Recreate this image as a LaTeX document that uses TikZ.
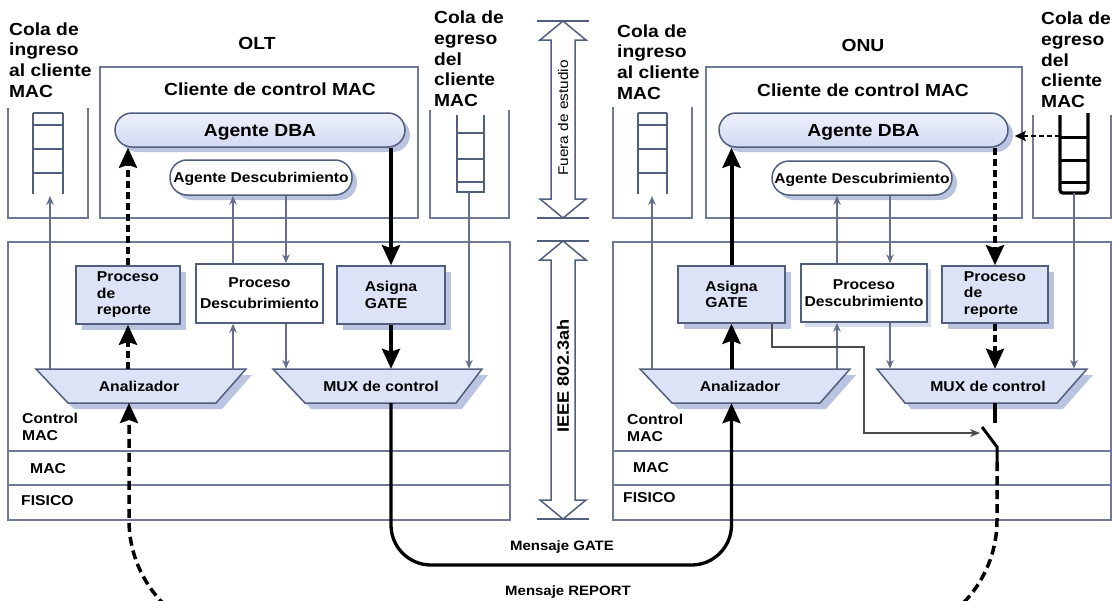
\documentclass[tikz,border=0pt]{standalone}
\usepackage{fontspec}
\setmainfont{Liberation Sans}[FakeStretch=1.1]
\usetikzlibrary{arrows.meta,shadows}

\definecolor{framec}{RGB}{112,122,152}
\definecolor{edgec}{RGB}{82,94,126}
\definecolor{boxc}{RGB}{221,227,246}
\definecolor{shadec}{RGB}{186,196,224}
\definecolor{wirec}{RGB}{100,111,142}
\definecolor{pilltop}{RGB}{238,241,252}
\definecolor{pillbot}{RGB}{210,218,242}

\newcommand\fntBig{\fontsize{17.5}{20.7}\selectfont\bfseries}
\newcommand\fntBox{\fontsize{14.3}{16.5}\selectfont\bfseries}
\newcommand\fntDesc{\fontsize{14.2}{16}\selectfont\bfseries}
\newcommand\fntMsg{\fontsize{13.6}{16}\selectfont\bfseries}

% hollow double-headed arrow: centre x, top tip y, bottom tip y
\newcommand\dblarrow[3]{%
  \draw[edgec, line width=1.5pt, fill=white, line join=miter]
    (#1,#2) -- (#1+23,#2+19) -- (#1+12,#2+19) -- (#1+12,#3-19) -- (#1+23,#3-19)
    -- (#1,#3) -- (#1-23,#3-19) -- (#1-12,#3-19) -- (#1-12,#2+19) -- (#1-23,#2+19) -- cycle;
  \draw[edgec, line width=1.5pt] (#1-26,#2) -- (#1+26,#2) (#1-26,#3) -- (#1+26,#3);}

% trapezoid outline with its shadow: top-left x, top-right x, bottom-left x, bottom-right x
\newcommand\trapbody[4]{%
  \fill[shadec] (#1+6,375) -- (#2+6,375) -- (#4+6,409) -- (#3+6,409) -- cycle;
  \draw[edgec, line width=1.5pt, fill=boxc] (#1,369) -- (#2,369) -- (#4,403) -- (#3,403) -- cycle;}

\begin{document}
\begin{tikzpicture}[x=1pt,y=-1pt,
  frameline/.style={draw=framec,line width=1.3pt},
  txt/.style={inner sep=0pt,font=\fntBig},
  pill/.style={rounded corners=17pt,draw=edgec,line width=1.5pt,top color=pilltop,bottom color=pillbot,
    drop shadow={shadow xshift=5pt,shadow yshift=-5pt,fill=shadec,opacity=1},
    inner sep=0pt,text height=12.6pt,text depth=0pt,font=\fntBig},
  descpill/.style={rounded corners=17pt,draw=edgec,line width=1.5pt,fill=white,
    drop shadow={shadow xshift=5pt,shadow yshift=-5pt,fill=shadec,opacity=1},
    inner sep=0pt,text height=10.2pt,text depth=0pt,font=\fntDesc},
  procbox/.style={draw=edgec,line width=1.6pt,fill=boxc,
    drop shadow={shadow xshift=6pt,shadow yshift=-6pt,fill=shadec,opacity=1},
    inner sep=0pt,font=\fntBox},
  plainbox/.style={draw=edgec,line width=1.6pt,fill=white,inner sep=0pt,font=\fntBox},
  trapnode/.style={inner sep=0pt,minimum width=150pt,minimum height=34pt,
    text height=10.3pt,text depth=0pt,font=\fntBox},
  wire/.style={draw=wirec,line width=1.4pt,-{Stealth[length=9pt,width=7.5pt]}},
  bigtip/.style={-{Stealth[length=20pt,width=18pt,inset=3pt]}},
  sthick/.style={line width=4pt,bigtip},
  dthick/.style={line width=4pt,dash pattern=on 7pt off 4pt,bigtip},
  repline/.style={line width=3.5pt,dash pattern=on 9pt off 5pt,rounded corners=119pt,bigtip},
  gateline/.style={line width=3.3pt,rounded corners=40pt,bigtip},
  ladder/.style={draw=edgec,line width=2.2pt},
]
\useasboundingbox (0,0) rectangle (1113,600);

% ---------------- frames ----------------
\draw[frameline] (8,108) -- (8,218) -- (88,218) -- (88,108);
\draw[frameline] (100,67) rectangle (418,218);
\draw[frameline] (430,110) -- (430,218) -- (509,218) -- (509,110);
\draw[frameline] (8,242) rectangle (510,520);
\draw[frameline] (8,451) -- (510,451) (8,485) -- (510,485);

\draw[frameline] (613,107) -- (613,218) -- (692,218) -- (692,107);
\draw[frameline] (706,67) rectangle (1022,218);
\draw[frameline] (1033,115) -- (1033,218) -- (1111,218) -- (1111,115);
\draw[frameline] (613,242) rectangle (1111,520);
\draw[frameline] (613,451) -- (1111,451) (613,485) -- (1111,485);

% ---------------- scope arrows in the middle ----------------
\dblarrow{563}{21}{218}
\dblarrow{563}{241}{519}
\node[rotate=90,inner sep=0pt,font=\fontsize{14}{16}\selectfont] (fuera) at (563,118) {Fuera de estudio};
\node[rotate=90,inner sep=0pt,font=\fontsize{16.5}{18}\selectfont\bfseries] (ieee) at (563,376) {IEEE 802.3ah};

% ---------------- queues ----------------
\draw[ladder] (33,113) -- (33,194) (63,113) -- (63,194)
  (33,113) -- (63,113) (33,125) -- (63,125) (33,149) -- (63,149) (33,173) -- (63,173);
\draw[ladder] (638,113) -- (638,194) (667,113) -- (667,194)
  (638,113) -- (667,113) (638,125) -- (667,125) (638,149) -- (667,149) (638,173) -- (667,173);
\draw[ladder] (457,115) -- (457,192) -- (484,192) -- (484,115)
  (457,133) -- (484,133) (457,159) -- (484,159) (457,182) -- (484,182);
\draw[black,line width=3.2pt,rounded corners=3pt] (1060,115) -- (1060,193) -- (1088,193) -- (1088,113);
\draw[black,line width=3pt] (1060,137) -- (1088,137) (1060,160) -- (1088,160) (1060,182) -- (1088,182);

\coordinate (ladInL) at (50,196);
\coordinate (ladOutL) at (469,192);
\coordinate (ladInR) at (652,196);
\coordinate (ladOutR) at (1074,193);
\coordinate (ladRung) at (1060,136);

% ---------------- labels ----------------
\node[txt,anchor=west,align=left] (qinLtxt) at (9,60) {Cola de\\ingreso\\al cliente\\MAC};
\node[txt,anchor=west,align=left] (qoutLtxt) at (434,59) {Cola de\\egreso\\del\\cliente\\MAC};
\node[txt,anchor=west,align=left] (qinRtxt) at (617,62) {Cola de\\ingreso\\al cliente\\MAC};
\node[txt,anchor=west,align=left] (qoutRtxt) at (1041,60) {Cola de\\egreso\\del\\cliente\\MAC};
\node[txt] (olt) at (257,43) {OLT};
\node[txt] (onu) at (863,45) {ONU};
\node[txt] (cliL) at (270,89) {Cliente de control MAC};
\node[txt] (cliR) at (863,90) {Cliente de control MAC};

\node[txt,font=\fntBox,anchor=west,align=left] (ctlL) at (22,427) {Control\\MAC};
\node[txt,font=\fntBox,anchor=west] (macL) at (30,469) {MAC};
\node[txt,font=\fntBox,anchor=west] (phyL) at (21,501) {FISICO};
\node[txt,font=\fntBox,anchor=west,align=left] (ctlR) at (627,428) {Control\\MAC};
\node[txt,font=\fntBox,anchor=west] (macR) at (633,468) {MAC};
\node[txt,font=\fntBox,anchor=west] (phyR) at (623,498) {FISICO};

% ---------------- agents ----------------
\node[pill,minimum width=290pt,minimum height=34pt] (dbaL) at (260,130) {Agente DBA};
\node[descpill,minimum width=182pt,minimum height=35pt] (descL) at (261,177.5) {Agente Descubrimiento};
\node[pill,minimum width=289pt,minimum height=34pt] (dbaR) at (863.5,130) {Agente DBA};
\node[descpill,minimum width=180pt,minimum height=34pt] (descR) at (862,178) {Agente Descubrimiento};

% ---------------- processes ----------------
\node[procbox,minimum width=104pt,minimum height=58pt,align=left] (prL) at (128,295) {Proceso\\de\\reporte};
\node[plainbox,minimum width=127pt,minimum height=59pt,align=center,
  font=\fontsize{14.3}{21}\selectfont\bfseries] (pdL) at (259.5,293.5) {Proceso\\Descubrimiento};
\node[procbox,minimum width=108pt,minimum height=58pt,align=left] (agL) at (391,295) {Asigna\\GATE};

\node[procbox,minimum width=107pt,minimum height=57pt,align=left] (agR) at (731.5,294.5) {Asigna\\GATE};
\node[plainbox,minimum width=126pt,minimum height=58pt,align=center,
  font=\fontsize{14.3}{17}\selectfont\bfseries,
  drop shadow={shadow xshift=4pt,shadow yshift=-5pt,fill=shadec!60,opacity=1}] (pdR) at (864,293) {Proceso\\Descubrimiento};
\node[procbox,minimum width=106pt,minimum height=57pt,align=left] (prR) at (995,294.5) {Proceso\\de\\reporte};

% ---------------- parser and multiplexer ----------------
\trapbody{36}{246}{68}{216}
\trapbody{273}{482}{305}{456}
\trapbody{640}{850}{672}{820}
\trapbody{877}{1087}{905}{1057}
\node[trapnode] (anaL) at (139,386) {Analizador};
\node[trapnode] (muxL) at (381,386) {MUX de control};
\node[trapnode] (anaR) at (740,386) {Analizador};
\node[trapnode] (muxR) at (988,386) {MUX de control};

% ---------------- OLT connections ----------------
\coordinate (upL) at (233,0);
\coordinate (dnL) at (286,0);
\draw[wire] (ladInL |- anaL.north) -- (ladInL);
\draw[dthick] (prL.north) -- (prL.north |- dbaL.south);
\draw[dthick] (prL.south |- anaL.north) -- (prL.south);
\draw[wire] (upL |- anaL.north) -- (upL |- pdL.south);
\draw[wire] (upL |- pdL.north) -- (upL |- descL.south);
\draw[wire] (dnL |- descL.south) -- (dnL |- pdL.north);
\draw[wire] (dnL |- pdL.south) -- (dnL |- muxL.north);
\draw[sthick] (agL.north |- dbaL.south) -- (agL.north);
\draw[sthick] (agL.south) -- (agL.south |- muxL.north);
\draw[wire] (ladOutL) -- (ladOutL |- muxL.north);

% ---------------- ONU connections ----------------
\coordinate (upR) at (837,0);
\coordinate (dnR) at (890,0);
\draw[wire] (ladInR |- anaR.north) -- (ladInR);
\draw[sthick] (agR.north) -- (agR.north |- dbaR.south);
\draw[sthick] (agR.south |- anaR.north) -- (agR.south);
\draw[wire] (upR |- anaR.north) -- (upR |- pdR.south);
\draw[wire] (upR |- pdR.north) -- (upR |- descR.south);
\draw[wire] (dnR |- descR.south) -- (dnR |- pdR.north);
\draw[wire] (dnR |- pdR.south) -- (dnR |- muxR.north);
\draw[dthick] (prR.north |- dbaR.south) -- (prR.north);
\draw[dthick] (prR.south) -- (prR.south |- muxR.north);
\draw[wire] (ladOutR) -- (ladOutR |- muxR.north);
\draw[line width=1.8pt,dash pattern=on 5pt off 3pt,-{Stealth[length=11pt,width=10pt,inset=2pt]},shorten >=6pt]
  (ladRung) -- (dbaR.east |- ladRung);

% GATE-driven switch on the ONU transmit path
\coordinate (gx) at (772,0);
\coordinate (swTop) at (995,423);
\coordinate (swPivot) at (982,427);
\coordinate (swBot) at (997,447);
\coordinate (swEnd) at (997,462);
\coordinate (swArrow) at (980,433);
\draw[line width=3.5pt] (prR.south |- muxR.south) -- (swTop);
\draw[line width=3pt] (swPivot) -- (swBot) -- (swEnd);
\draw[draw=black!70,line width=1.4pt,-{Stealth[length=10pt,width=8pt]}]
  (agR.south -| gx) -- (772,347) -- (864,347) -- (864,433) -- (swArrow);

% ---------------- messages between OLT and ONU ----------------
\coordinate (gateLow) at (0,565);
\draw[gateline] (agL.south |- muxL.south) -- (agL.south |- gateLow) -- (agR.south |- gateLow) -- (agR.south |- anaR.south);
\draw[repline] (swEnd) -- (997,639) -- (129,639) -- (129,403);
\node[inner sep=0pt,font=\fntMsg] (gateMsg) at (562,547) {Mensaje GATE};
\node[inner sep=0pt,font=\fntMsg] (repMsg) at (568,592) {Mensaje REPORT};

\end{tikzpicture}
\end{document}
